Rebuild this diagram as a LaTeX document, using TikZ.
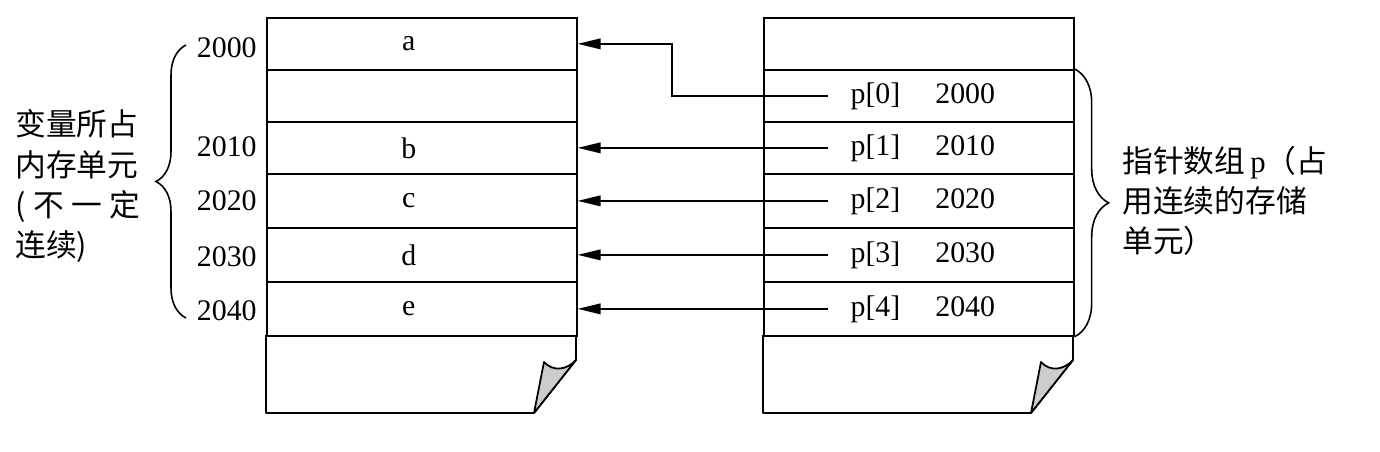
\documentclass[tikz,border=0pt]{standalone}
\usepackage{fontspec}
\setmainfont{Liberation Serif}
\newfontfamily\cjk{Noto Sans CJK SC}
\usetikzlibrary{positioning, arrows.meta, decorations.pathreplacing}

\begin{document}
\begin{tikzpicture}[x=0.02cm, y=-0.02cm,
    cell/.style={draw, line width=1pt, minimum width=6.2cm, inner sep=0pt, anchor=north west, font=\fontsize{17}{19}\selectfont},
    addr/.style={anchor=east, inner sep=0pt, font=\fontsize{17}{19}\selectfont},
    ptr/.style={-{Triangle[length=13pt, width=6pt]}, line width=1pt},
    brc/.style={decorate, decoration={brace, amplitude=#1}, line width=0.9pt},
    note/.style={align=left, inner sep=0pt, font=\cjk\fontsize{17.5}{22.8}\selectfont}]
    \useasboundingbox (0,0) rectangle (1380,452);

    % Draw variable cells (left) and pointer cells (right)
    \foreach \i/\t/\h/\v/\p in {0/17/1.04/a/, 1/69/1.04//p[0]\hspace{0.7cm}2000, 2/121/1.04/b/p[1]\hspace{0.7cm}2010,
        3/173/1.08/c/p[2]\hspace{0.7cm}2020, 4/227/1.08/d/p[3]\hspace{0.7cm}2030, 5/281/1.08/e/p[4]\hspace{0.7cm}2040} {
      \node[cell, minimum height=\h cm] (var\i) at (266,\t) {\v\hspace*{0.52cm}};
      \node[cell, minimum height=\h cm] (ptr\i) at (763,\t) {\hspace*{0.16cm}\p};
    }

    % Draw bottom of both pages with folded corner
    \foreach \x in {0, 497} {
      \draw[line width=1pt, line join=round] (266+\x,335) -- (266+\x,413) -- (534+\x,413) -- (576+\x,360) -- (576+\x,335);
      \filldraw[fill=gray!40, line width=1pt, line join=round] (534+\x,413) -- (544+\x,362)
        .. controls (553+\x,372) and (567+\x,370) .. (576+\x,360) -- cycle;
    }

    % Draw addresses
    \foreach \j/\y/\a in {0/48/2000, 2/147/2010, 3/201/2020, 4/257/2030, 5/311/2040} {
      \node[addr] (addr\j) at (257,\y) {\a};
    }

    % Draw pointers
    \draw[ptr] ([xshift=1.3cm]ptr1.west) -- ++(-156,0) |- (var0.east);
    \foreach \k in {2,...,5} {
      \draw[ptr] ([xshift=1.3cm]ptr\k.west) -- (var\k.east);
    }

    % Draw braces and notes
    \draw[brc=0.6cm] (186,318) -- (186,45);
    \draw[brc=0.68cm] (ptr1.north east) -- (ptr5.south east);
    \node[note, text width=2.5cm, anchor=west] (vnote) at (15,186)
      {变量所占\\内存单元\\(\hfill 不\hfill 一\hfill 定\\连续)};
    \node[note, anchor=west] (pnote) at (1122,201)
      {指针数组\,{\rmfamily p}（占\\用连续的存储\\单元）};
\end{tikzpicture}
\end{document}
